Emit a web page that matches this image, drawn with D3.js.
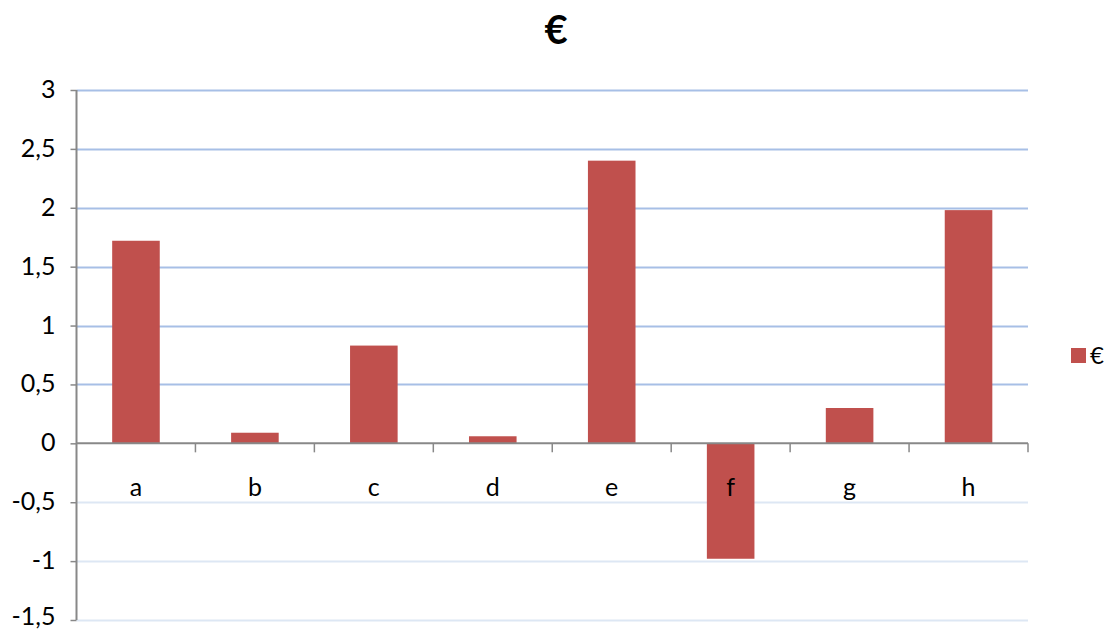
<!DOCTYPE html>
<html>
<head>
<meta charset="utf-8">
<script src="https://cdn.jsdelivr.net/npm/d3@7"></script>
<style>
  body { margin: 0; background: #fff; }
  svg { display: block; }
  svg text { font-family: Lato, "Open Sans", sans-serif; fill: #000; }
</style>
</head>
<body>
<svg id="chart" width="1108" height="631"></svg>
<script>
const categories = ["a", "b", "c", "d", "e", "f", "g", "h"]
const values = [1.72, 0.09, 0.83, 0.06, 2.4, -0.98, 0.3, 1.98]
const yTicks = [3, 2.5, 2, 1.5, 1, 0.5, 0, -0.5, -1, -1.5]
const seriesName = "€"

const plotLeft = 76.5, plotRight = 1028, plotTop = 90, plotBottom = 620
const barColor = "#C0504D"

const svg = d3.select("#chart")

const x = d3.scaleBand()
    .domain(categories)
    .range([plotLeft, plotRight])
    .padding(0)

const y = d3.scaleLinear()
    .domain([-1.5, 3])
    .range([plotBottom, plotTop])

const fmt = (d) => String(d).replace(".", ",")

// gridlines, lighter below zero
svg.append("g")
    .selectAll("line")
    .data(yTicks.filter((d) => d !== 0))
    .join("line")
    .attr("x1", plotLeft)
    .attr("x2", plotRight)
    .attr("y1", (d) => Math.round(y(d)) + 0.5)
    .attr("y2", (d) => Math.round(y(d)) + 0.5)
    .attr("stroke", (d) => d > 0 ? "#a7bfe6" : "#dde7f4")
    .attr("stroke-width", 2)

// bars
let barW = x.bandwidth() * 0.4
svg.append("g")
    .selectAll("rect")
    .data(values)
    .join("rect")
    .attr("x", (d, i) => x(categories[i]) + (x.bandwidth() - barW) / 2)
    .attr("y", (d) => y(Math.max(0, d)))
    .attr("width", barW)
    .attr("height", (d) => Math.abs(y(d) - y(0)))
    .attr("fill", barColor)

// y axis
const yAxis = d3.axisLeft(y)
    .tickValues(yTicks)
    .tickFormat(fmt)
    .tickSize(6)
    .tickPadding(15)

const gy = svg.append("g")
    .attr("transform", `translate(${plotLeft},0)`)
    .call(yAxis)
gy.attr("font-family", null).attr("font-size", null)
gy.select(".domain").attr("stroke", "#888").attr("stroke-width", 2)
    .attr("d", `M0,${plotTop}V${plotBottom}`)
gy.selectAll(".tick line").attr("stroke", "#888").attr("stroke-width", 1.5)
gy.selectAll(".tick text")
    .style("font-size", "25px")
    .attr("dy", (d) => d === -1.5 ? "0.18em" : "0.3em")
    .attr("fill", "#000")

// zero line (category axis)
svg.append("line")
    .attr("x1", plotLeft)
    .attr("x2", plotRight)
    .attr("y1", y(0))
    .attr("y2", y(0))
    .attr("stroke", "#888")
    .attr("stroke-width", 2)

// category boundary ticks
let bounds = categories.map((c) => x(c) + x.bandwidth())
svg.append("g")
    .selectAll("line")
    .data(bounds)
    .join("line")
    .attr("x1", (d) => d)
    .attr("x2", (d) => d)
    .attr("y1", y(0))
    .attr("y2", y(0) + 9)
    .attr("stroke", "#888")
    .attr("stroke-width", 1.5)

// category labels
svg.append("g")
    .selectAll("text")
    .data(categories)
    .join("text")
    .attr("x", (d) => x(d) + x.bandwidth() / 2)
    .attr("y", y(0) + 53)
    .attr("text-anchor", "middle")
    .style("font-size", "25px")
    .text((d) => d)

// title
svg.append("text")
    .attr("x", 556)
    .attr("y", 44)
    .attr("text-anchor", "middle")
    .style("font-size", "40px")
    .style("font-weight", "bold")
    .text(seriesName)

// legend
svg.append("rect")
    .attr("x", 1071)
    .attr("y", 348)
    .attr("width", 15)
    .attr("height", 15)
    .attr("fill", barColor)
svg.append("text")
    .attr("x", 1090)
    .attr("y", 364)
    .style("font-size", "24px")
    .text(seriesName)
</script>
</body>
</html>
